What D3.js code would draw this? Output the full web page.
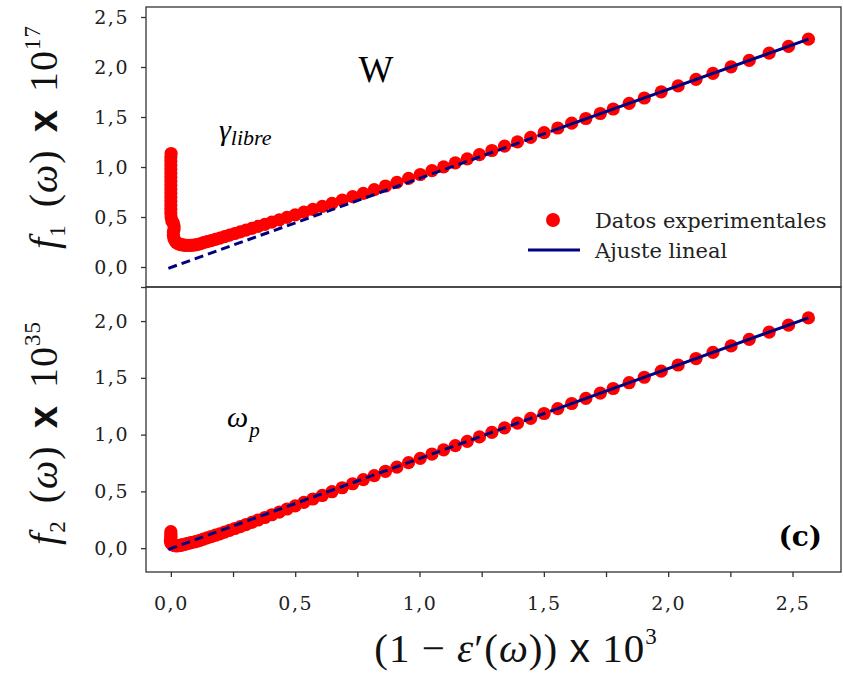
<!DOCTYPE html>
<html>
<head>
<meta charset="utf-8">
<script src="https://cdn.jsdelivr.net/npm/d3@7"></script>
<style>
  body { margin: 0; background: #fff; }
  svg { display: block; }
  .tick text { font-family: "DejaVu Serif", serif; font-size: 19px; letter-spacing: 1.5px; fill: #222; }
  .tick line, .domain { stroke: #333; stroke-width: 1.3px; }
</style>
</head>
<body>
<svg id="chart" width="843" height="698"></svg>
<script>
// x = (1 - eps'(w)) x 10^3 , shared by both panels (main part of the data)
const xMain = [0.041, 0.047, 0.054, 0.062, 0.071, 0.081, 0.092, 0.104, 0.117, 0.131, 0.146, 0.162, 0.179, 0.197,
  0.216, 0.236, 0.257, 0.279, 0.302, 0.326, 0.351, 0.378, 0.406, 0.436, 0.467, 0.5, 0.535, 0.571, 0.609, 0.648,
  0.689, 0.731, 0.774, 0.818, 0.863, 0.909, 0.956, 1.003, 1.05, 1.097, 1.144, 1.192, 1.241, 1.291, 1.342, 1.394,
  1.447, 1.501, 1.556, 1.612, 1.669, 1.727, 1.779, 1.843, 1.904, 1.972, 2.04, 2.112, 2.18, 2.253, 2.326, 2.406,
  2.484, 2.564];

// f1(w) x 10^17 (W, gamma libre)
const f1Main = [0.225, 0.22, 0.218, 0.216, 0.216, 0.217, 0.219, 0.223, 0.232, 0.243, 0.253, 0.264, 0.276, 0.289,
  0.304, 0.319, 0.335, 0.351, 0.369, 0.387, 0.406, 0.427, 0.448, 0.472, 0.496, 0.521, 0.548, 0.576, 0.606, 0.637,
  0.669, 0.703, 0.737, 0.773, 0.81, 0.847, 0.886, 0.925, 0.964, 1.002, 1.042, 1.082, 1.123, 1.165, 1.208, 1.252,
  1.297, 1.343, 1.39, 1.438, 1.485, 1.535, 1.58, 1.636, 1.69, 1.752, 1.811, 1.877, 1.936, 2.002, 2.066, 2.138,
  2.207, 2.278];
// low-x cluster of f1 (the vertical rise at x ~ 0)
const xLow1 = [0.001, 0.0, 0.0, 0.0, 0.0, 0.0, 0.0, 0.0, 0.0, 0.0, 0.0, 0.0, 0.0, 0.0, 0.0, 0.0, 0.001, 0.004,
  0.01, 0.013, 0.013, 0.01, 0.01, 0.012, 0.016, 0.022, 0.03, 0.036];
const f1Low = [1.135, 1.1, 1.06, 1.02, 0.98, 0.94, 0.9, 0.86, 0.82, 0.78, 0.74, 0.7, 0.66, 0.62, 0.58, 0.54, 0.5,
  0.46, 0.44, 0.41, 0.38, 0.35, 0.32, 0.29, 0.265, 0.245, 0.232, 0.228];

// f2(w) x 10^35 (omega_p)
const f2Main = [0.026, 0.029, 0.034, 0.038, 0.043, 0.049, 0.054, 0.059, 0.069, 0.079, 0.09, 0.101, 0.114, 0.126,
  0.141, 0.157, 0.173, 0.19, 0.208, 0.227, 0.248, 0.27, 0.294, 0.318, 0.345, 0.373, 0.403, 0.433, 0.464, 0.497,
  0.532, 0.567, 0.603, 0.639, 0.677, 0.714, 0.753, 0.791, 0.829, 0.866, 0.903, 0.941, 0.98, 1.019, 1.06, 1.101,
  1.143, 1.186, 1.229, 1.274, 1.319, 1.365, 1.406, 1.457, 1.505, 1.559, 1.613, 1.67, 1.724, 1.781, 1.839, 1.903,
  1.964, 2.028];
const xLow2 = [0.0, 0.0, 0.0, 0.0, -0.002, 0.0, 0.006, 0.014, 0.022, 0.03, 0.036];
const f2Low = [0.145, 0.125, 0.105, 0.085, 0.065, 0.045, 0.03, 0.022, 0.02, 0.021, 0.024];

// linear fits: dashed up to the middle node, solid after it
const fitX = [-0.01, 1.55, 2.564];
const fit1 = [-0.013, 1.376, 2.278];
const fit2 = [-0.011, 1.225, 2.028];

const xTicks = [0, 0.25, 0.5, 0.75, 1.0, 1.25, 1.5, 1.75, 2.0, 2.25, 2.5];
const y1Ticks = [-0.2, 0, 0.5, 1.0, 1.5, 2.0, 2.5];
const y2Ticks = [0, 0.5, 1.0, 1.5, 2.0];

const svg = d3.select("#chart");
const left = 146, right = 841;
const top1 = 7, mid = 287, bot2 = 572;

const loc = d3.formatLocale({decimal: ",", thousands: ".", grouping: [3], currency: ["", ""]});
const fmt = loc.format(".1f");

const x = d3.scaleLinear().domain([-0.1, 2.695]).range([left, right]);
const y1 = d3.scaleLinear().domain([-0.2, 2.6]).range([mid, top1]);
const y2 = d3.scaleLinear().domain([-0.21, 2.3]).range([bot2, mid]);

const red = "#ff0000", navy = "#000080";

function zip(xs, ys) { return xs.map((v, i) => [v, ys[i]]); }

// frames
[[top1, mid], [mid, bot2]].forEach(([a, b]) => {
  svg.append("rect").attr("x", left).attr("y", a).attr("width", right - left).attr("height", b - a)
    .attr("fill", "none").attr("stroke", "#333").attr("stroke-width", 1.3);
});

// y axes
svg.append("g").attr("transform", `translate(${left},0)`)
  .call(d3.axisLeft(y1).tickValues(y1Ticks).tickSize(5).tickSizeOuter(0).tickPadding(12)
    .tickFormat(d => d < 0 ? "" : fmt(d)))
  .call(g => g.select(".domain").remove());
svg.append("g").attr("transform", `translate(${left},0)`)
  .call(d3.axisLeft(y2).tickValues(y2Ticks).tickSize(5).tickSizeOuter(0).tickPadding(12).tickFormat(fmt))
  .call(g => g.select(".domain").remove());
// x axis
svg.append("g").attr("transform", `translate(0,${bot2})`)
  .call(d3.axisBottom(x).tickValues(xTicks).tickSize(5).tickSizeOuter(0).tickPadding(20)
    .tickFormat(d => (d * 2) % 1 === 0 ? fmt(d) : ""))
  .call(g => g.select(".domain").remove());

// data points
function drawPanel(xs, ys, yScale, fy) {
  const g = svg.append("g");
  g.selectAll("circle").data(zip(xs, ys)).join("circle")
    .attr("cx", d => x(d[0])).attr("cy", d => yScale(d[1])).attr("r", 6.6).attr("fill", red);
  const line = d3.line().x(d => x(d[0])).y(d => yScale(d[1]));
  const pts = zip(fitX, fy);
  g.append("path").attr("d", line(pts.slice(0, 2))).attr("fill", "none")
    .attr("stroke", navy).attr("stroke-width", 3).attr("stroke-dasharray", "9,5");
  g.append("path").attr("d", line(pts.slice(1))).attr("fill", "none")
    .attr("stroke", navy).attr("stroke-width", 3);
}
drawPanel(xLow1.concat(xMain), f1Low.concat(f1Main), y1, fit1);
drawPanel(xLow2.concat(xMain), f2Low.concat(f2Main), y2, fit2);

// annotations
const serif = "Liberation Serif, Times New Roman, serif";
svg.append("text").attr("x", 376).attr("y", 82).attr("text-anchor", "middle")
  .attr("font-family", serif).attr("font-size", 37).text("W");
const gl = svg.append("text").attr("x", 219).attr("y", 140).attr("font-family", serif).attr("font-style", "italic");
gl.append("tspan").attr("font-size", 30).text("γ");
gl.append("tspan").attr("font-size", 22).attr("dy", 5).text("libre");
const wp = svg.append("text").attr("x", 227).attr("y", 427).attr("font-family", serif).attr("font-style", "italic");
wp.append("tspan").attr("font-size", 30).text("ω");
wp.append("tspan").attr("font-size", 21).attr("dy", 10).attr("dx", 1).text("p");
svg.append("text").attr("x", 822).attr("y", 546).attr("text-anchor", "end")
  .attr("font-family", "DejaVu Serif, serif").attr("font-weight", "bold").attr("font-size", 28).text("(c)");

// legend
const leg = svg.append("g").attr("font-family", "DejaVu Serif, serif").attr("font-size", 21).attr("fill", "#222");
leg.append("circle").attr("cx", 553).attr("cy", 220).attr("r", 7).attr("fill", red);
leg.append("text").attr("x", 595).attr("y", 228).text("Datos experimentales");
leg.append("line").attr("x1", 528).attr("x2", 580).attr("y1", 250).attr("y2", 250)
  .attr("stroke", navy).attr("stroke-width", 3);
leg.append("text").attr("x", 595).attr("y", 258).text("Ajuste lineal");

// axis titles
function yTitle(cx, cy, sub, exp) {
  const t = svg.append("text").attr("transform", `translate(${cx},${cy}) rotate(-90)`)
    .attr("text-anchor", "middle").attr("font-family", serif).attr("font-size", 40).attr("fill", "#111")
    .attr("letter-spacing", 1).attr("word-spacing", 6);
  t.append("tspan").attr("font-style", "italic").text("f");
  t.append("tspan").attr("font-size", 23).attr("dy", 8).text(sub);
  t.append("tspan").attr("dy", -8).text(" (");
  t.append("tspan").attr("font-style", "italic").text("ω");
  t.append("tspan").text(") ");
  t.append("tspan").attr("font-family", "Liberation Sans, Arial, sans-serif").attr("font-weight", "bold").text("x");
  t.append("tspan").text(" 10");
  t.append("tspan").attr("font-size", 23).attr("dy", -17).text(exp);
}
yTitle(57, 137, "1", "17");
yTitle(57, 433, "2", "35");

const xt = svg.append("text").attr("x", 516).attr("y", 662).attr("text-anchor", "middle")
  .attr("font-family", serif).attr("font-size", 41).attr("fill", "#111").attr("letter-spacing", 1);
xt.append("tspan").text("(1 − ");
xt.append("tspan").attr("font-style", "italic").text("ε");
xt.append("tspan").text("′(");
xt.append("tspan").attr("font-style", "italic").text("ω");
xt.append("tspan").text(")) ");
xt.append("tspan").attr("font-family", "Liberation Sans, Arial, sans-serif").text("x");
xt.append("tspan").text(" 10");
xt.append("tspan").attr("font-size", 23).attr("dy", -18).text("3");
</script>
</body>
</html>
